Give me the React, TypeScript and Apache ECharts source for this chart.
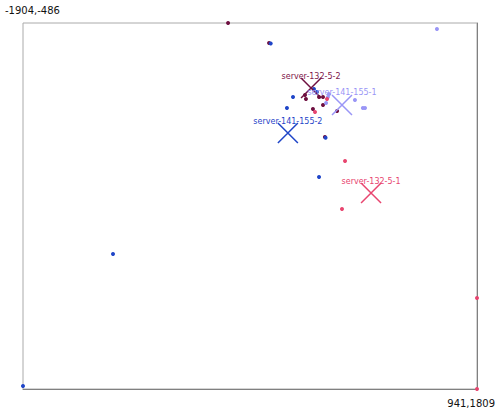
import React, { useEffect, useRef } from "react";
import * as echarts from "echarts";

const X_MIN = -1904;
const X_MAX = 941;
const Y_MIN = -486;
const Y_MAX = 1809;

const seriesNames = ["server-132-5-2", "server-141-155-1", "server-141-155-2", "server-132-5-1"];
const pointColors = ["#6e0f40", "#9a96f6", "#1f45c8", "#e8456f"];
const labelColors = ["#7d1549", "#9a96f6", "#1f45c8", "#e8456f"];

const points132_5_2: number[][] = [
  [-619, -486], [-362, -361], [-137, -35], [-131, -9], [-49, -22], [-24, -22],
  [-24, 28], [-87, 53], [64, 66], [-12, 229],
];
const points141_155_1: number[][] = [
  [690, -448], [7, -22], [-5, 16], [226, 47], [239, 47], [176, -3], [13, -40],
];
const points141_155_2: number[][] = [
  [-352, -358], [-212, -22], [-81, -72], [-62, -53], [-250, 47], [-49, 480],
  [-1340, 962], [-1904, 1790], [-8, 234],
];
const points132_5_1: number[][] = [
  [114, 379], [95, 680], [941, 1238], [941, 1809], [-74, 72], [1, -9],
];
const centroids: number[][] = [
  [-99, -78], [95, 28], [-244, 204], [277, 580],
];

const cornerTopLeft = `${X_MIN},${Y_MIN}`;
const cornerBottomRight = `${X_MAX},${Y_MAX}`;

export default function App() {
  const ref = useRef<HTMLDivElement>(null);
  useEffect(() => {
    if (!ref.current) return;
    const chart = echarts.init(ref.current, undefined, { renderer: "svg" });
    const groups = [points132_5_2, points141_155_1, points141_155_2, points132_5_1];
    const font = "DejaVu Sans";
    const series: any[] = [];
    groups.forEach((g, i) => {
      series.push({
        type: "scatter",
        name: seriesNames[i],
        data: g,
        symbol: "circle",
        symbolSize: 4,
        itemStyle: { color: pointColors[i], opacity: 1 },
      });
    });
    centroids.forEach((c, i) => {
      series.push({
        type: "scatter",
        name: seriesNames[i] + "-centroid",
        data: [c],
        symbol: "path://M0,0L10,10M10,0L0,10",
        symbolSize: 20,
        itemStyle: { color: "none", borderColor: pointColors[i], borderWidth: 1.5, opacity: 1 },
        label: {
          show: true,
          position: "inside",
          offset: [0, -12],
          formatter: seriesNames[i],
          color: labelColors[i],
          fontSize: 8,
          fontFamily: font,
        },
        z: 3,
      });
    });
    chart.setOption({
      animation: false,
      grid: {
        left: 23, top: 23, width: 454, height: 366,
        show: true, borderColor: "#aaaaaa", borderWidth: 1,
      },
      xAxis: {
        type: "value", min: X_MIN, max: X_MAX,
        axisLine: { show: true, onZero: false, lineStyle: { color: "#808080" } },
        axisTick: { show: false }, axisLabel: { show: false }, splitLine: { show: false },
      },
      yAxis: {
        type: "value", min: Y_MIN, max: Y_MAX, inverse: true, position: "right",
        axisLine: { show: true, onZero: false, lineStyle: { color: "#808080" } },
        axisTick: { show: false }, axisLabel: { show: false }, splitLine: { show: false },
      },
      graphic: [
        {
          type: "text", left: 5, top: 5,
          style: { text: cornerTopLeft, fontSize: 10, fontFamily: font, fill: "#111" },
        },
        {
          type: "text", right: 5, top: 398,
          style: { text: cornerBottomRight, fontSize: 10, fontFamily: font, fill: "#111" },
        },
      ],
      series,
    });
    return () => chart.dispose();
  }, []);
  return (
    <div
      ref={ref}
      style={{ position: "fixed", left: 0, top: 0, width: 500, height: 412, background: "#fff" }}
    />
  );
}
